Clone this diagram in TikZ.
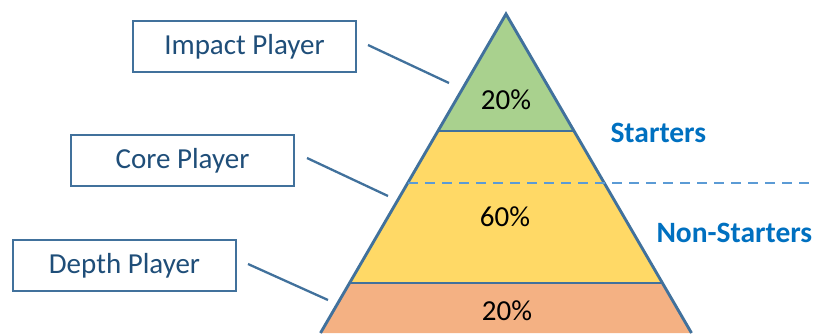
\documentclass[tikz,border=0pt]{standalone}
\usepackage{fontspec}
\setmainfont{Carlito}
\definecolor{outl}{HTML}{41719C}
\definecolor{boxtxt}{HTML}{1F4E79}
\definecolor{lblue}{HTML}{0070C0}
\definecolor{dashblue}{HTML}{5B9BD5}
\definecolor{gr}{HTML}{A9D18E}
\definecolor{ye}{HTML}{FFD966}
\definecolor{orng}{HTML}{F4B183}
\begin{document}
\begin{tikzpicture}[x=1pt,y=-1pt,
  rolebox/.style={draw=outl,line width=2.6pt,fill=white,minimum width=223pt,minimum height=51pt,inner sep=0pt,text=boxtxt,font=\fontsize{29}{31}\selectfont},
  conn/.style={draw=outl,line width=2.3pt},
  pct/.style={font=\fontsize{29}{31}\selectfont,text=black},
  side/.style={font=\bfseries\fontsize{29.5}{31}\selectfont,text=lblue,anchor=west},
  layer/.style={draw=outl,line width=2.9pt,line join=miter}]
\useasboundingbox (0,0) rectangle (815,333);
\begin{scope}
\clip (0,0) rectangle (815,333);
% pyramid layers
\path[fill=orng] (350,283) -- (662,283) -- (691.5,333) -- (320.5,333) -- cycle;
\path[fill=ye] (438,131) -- (574,131) -- (662,283) -- (350,283) -- cycle;
\path[fill=gr] (506,14) -- (574,131) -- (438,131) -- cycle;
\draw[layer] (438,131) -- (574,131);
\draw[layer] (350,283) -- (662,283);
\draw[layer] (320.5,333) -- (506,14) -- (691.5,333);
\end{scope}
% dashed divider
\coordinate (dl) at (408,183);
\coordinate (dr) at (815,183);
\draw[draw=dashblue,line width=2.4pt,dash pattern=on 10pt off 7pt] (dl) -- (dr);
% percentages
\node[pct] (p1) at (506,100) {20\%};
\node[pct] (p2) at (505,217) {60\%};
\node[pct] (p3) at (507,311) {20\%};
% side labels
\node[side] (st) at (607,133) {Starters};
\node[side] (ns) at (653,233) {Non-Starters};
% boxes
\node[rolebox] (imp) at (244.5,46.5) {Impact Player};
\node[rolebox] (core) at (182.5,160.5) {Core Player};
\node[rolebox] (dep) at (124.5,265.5) {Depth Player};
% connectors
\coordinate (a1) at (368,45);
\coordinate (b1) at (449,83);
\coordinate (a2) at (307,158);
\coordinate (b2) at (388,196);
\coordinate (a3) at (248,264);
\coordinate (b3) at (328,300);
\draw[conn] (a1) -- (b1);
\draw[conn] (a2) -- (b2);
\draw[conn] (a3) -- (b3);
\end{tikzpicture}
\end{document}
